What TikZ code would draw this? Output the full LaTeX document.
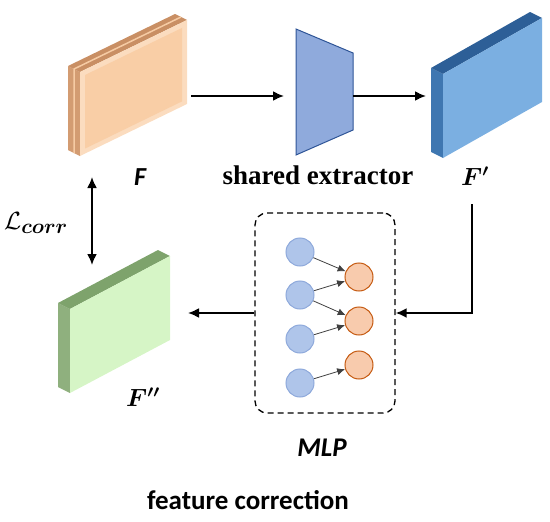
\documentclass[tikz,border=0pt]{standalone}
\usepackage{amsmath}
\usepackage{fontspec}
\usepackage{tikz}
\usetikzlibrary{arrows.meta}
\newfontfamily\calib{Carlito}
\newfontfamily\cambr{Liberation Serif}
\definecolor{Ffront}{HTML}{FBDCBF}
\definecolor{Finner}{HTML}{F9CEA6}
\definecolor{Fside}{HTML}{D39C72}
\definecolor{Ftop}{HTML}{C98F64}
\definecolor{Fline}{HTML}{F6CBA4}
\definecolor{Pfront}{HTML}{7BAFE1}
\definecolor{Pside}{HTML}{3F77B1}
\definecolor{Ptop}{HTML}{2D5F97}
\definecolor{Gfront}{HTML}{D6F5C6}
\definecolor{Gside}{HTML}{8FB07E}
\definecolor{Gtop}{HTML}{7EA36C}
\definecolor{extfill}{HTML}{8FAADC}
\definecolor{extline}{HTML}{2F5597}
\definecolor{bluein}{HTML}{AFC5EA}
\definecolor{blueline}{HTML}{8EA9DB}
\definecolor{orangein}{HTML}{F8CBAD}
\definecolor{orangeline}{HTML}{C55A11}

\begin{document}
\begin{tikzpicture}[x=1pt,y=-1pt,
    arr/.style={line width=2pt,-{Latex[length=11pt,width=10pt]}},
    dbl/.style={line width=2pt,{Latex[length=11pt,width=10pt]}-{Latex[length=11pt,width=10pt]}},
    nn/.style={circle,minimum size=28pt,inner sep=0pt,line width=1pt},
    inn/.style={nn,draw=blueline,fill=bluein},
    outn/.style={nn,draw=orangeline,fill=orangein},
    lnk/.style={line width=0.8pt,draw=black!75,-{Latex[length=8pt,width=7pt]}},
    lab/.style={inner sep=1pt}]
  \useasboundingbox (0,0) rectangle (550,522);
  % feature plates
  \foreach \px/\py/\pw/\pr/\cf/\cs/\ct in {80/72/107/52/Ffront/Fside/Ftop,
      443/74/99/56/Pfront/Pside/Ptop, 70/309/100/53/Gfront/Gside/Gtop}{
    \fill[fill=\cs] (\px,\py) -- (\px,\py+84) -- (\px-12,\py+78) -- (\px-12,\py-6) -- cycle;
    \fill[fill=\ct] (\px,\py) -- (\px+\pw,\py-\pr) -- (\px+\pw-12,\py-\pr-6) -- (\px-12,\py-6) -- cycle;
    \fill[fill=\cf] (\px,\py) -- (\px,\py+84) -- (\px+\pw,\py+84-\pr) -- (\px+\pw,\py-\pr) -- cycle;
  }
  \fill[Finner] (85,75) -- (85,148.6) -- (182,101.4) -- (182,27.9) -- cycle;
  \draw[Fline,line width=1.5pt] (74,153) -- (74,69) -- (181,17);
  % shared extractor
  \filldraw[fill=extfill,draw=extline,line width=1pt] (296,29) -- (353,53) -- (353,130) -- (296,155) -- cycle;
  \coordinate (fo) at (191,96);
  \coordinate (ei) at (284,96);
  \coordinate (eo) at (353,96);
  \coordinate (pi) at (426,96);
  \coordinate (po) at (472,204);
  \coordinate (gi) at (188,313);
  \coordinate (ct) at (92,177);
  \coordinate (cb) at (92,265);
  % MLP
  \node[draw,dash pattern=on 6pt off 4pt,rounded corners=12pt,line width=1.3pt,
    minimum width=140pt,minimum height=200pt] (mlp) at (325,313) {};
  \foreach \i/\y in {1/252,2/295,3/339,4/383}{\node[inn] (b\i) at (300,\y) {};}
  \foreach \i/\y in {1/277,2/321,3/365}{\node[outn] (o\i) at (359,\y) {};}
  \draw[lnk] (b1) -- (o1);
  \draw[lnk] (b2) -- (o1);
  \draw[lnk] (b2) -- (o2);
  \draw[lnk] (b3) -- (o2);
  \draw[lnk] (b4) -- (o3);
  % connectors
  \draw[arr] (fo) -- (ei);
  \draw[arr] (eo) -- (pi);
  \draw[arr] (po) |- (mlp.east);
  \draw[arr] (mlp.west) -- (gi);
  \draw[dbl] (ct) -- (cb);
  % labels
  \node[lab,font=\calib\bfseries\itshape\fontsize{26}{30}\selectfont] (lf) at (140,177) {F};
  \node[lab,font=\cambr\bfseries\fontsize{27}{30}\selectfont] (lext) at (318,175) {shared extractor};
  \node[lab,font=\fontsize{23}{26}\selectfont] (lf1) at (475,176) {$\boldsymbol{F'}$};
  \node[lab,font=\fontsize{23}{26}\selectfont] (lf2) at (143,397) {$\boldsymbol{F''}$};
  \node[lab,font=\fontsize{28}{32}\selectfont] (lcorr) at (36,223) {$\mathcal{L}_{\boldsymbol{corr}}$};
  \node[lab,font=\calib\bfseries\itshape\fontsize{27}{30}\selectfont] (lmlp) at (322,448) {MLP};
  \node[lab,font=\calib\bfseries\fontsize{27}{30}\selectfont] (lfc) at (248,500) {feature correction};
\end{tikzpicture}
\end{document}
